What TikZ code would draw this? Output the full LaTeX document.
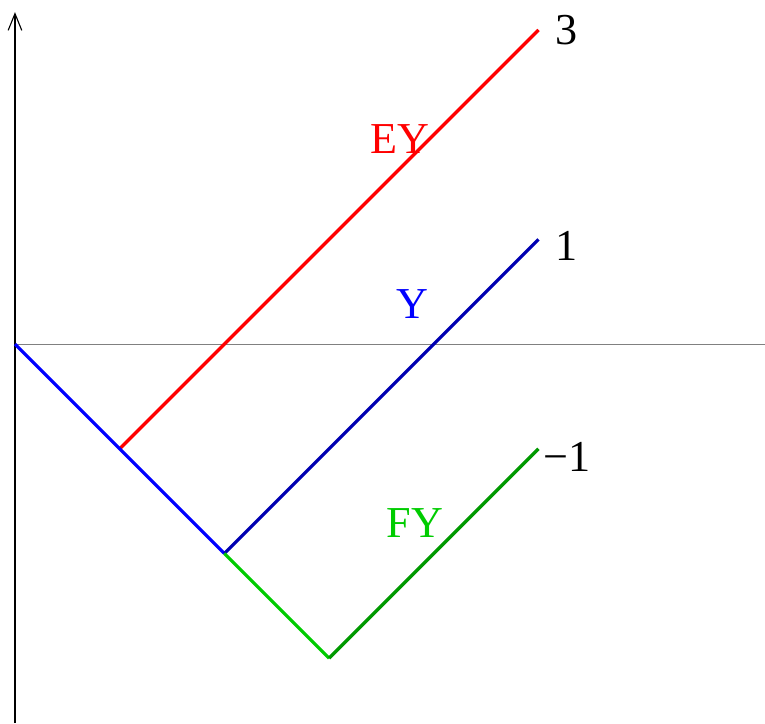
\documentclass[tikz,border=0pt]{standalone}
\usepackage{fontspec}
\setmainfont{Liberation Serif}
\usetikzlibrary{arrows.meta}
\definecolor{darkblue}{rgb}{0,0,0.7}
\definecolor{darkgreen}{rgb}{0,0.6,0}

\begin{document}
\begin{tikzpicture}[
  axis/.style={line width=0.3pt},
  seg/.style={line width=0.9pt},
  lbl/.style={font=\fontsize{12}{14}\selectfont, inner sep=0pt}
]
\useasboundingbox (-0.143,-3.62) rectangle (7.163,3.286);
\coordinate (o) at (0,0);
\coordinate (a) at (1,-1);
\coordinate (b) at (2,-2);
\coordinate (c) at (3,-3);
\coordinate (ey) at (5,3);
\coordinate (y) at (5,1);
\coordinate (fy) at (5,-1);
\coordinate (xend) at (7.163,0);
\coordinate (ybot) at (0,-3.62);
\coordinate (ytop) at (0,3.17);
% axes
\draw[axis, gray] (o) -- (xend);
\draw[axis, -{Straight Barb[length=1.6mm, width=1.3mm]}] (ybot) -- (ytop);
% paths
\draw[seg, red] (a) -- (ey);
\draw[seg, blue] (o) -- (b);
\draw[seg, darkblue] (b) -- (y);
\draw[seg, green!80!black] (b) -- (c);
\draw[seg, darkgreen] (c) -- (fy);
% labels
\node[lbl, red] (eylbl) at (3.68,1.96) {EY};
\node[lbl, blue] (ylbl) at (3.80,0.38) {Y};
\node[lbl, green!80!black] (fylbl) at (3.82,-1.71) {FY};
\node[lbl] (n3) at (5.27,3.0) {3};
\node[lbl] (n1) at (5.27,0.94) {1};
\node[lbl] (nm1) at (5.27,-1.08) {−1};
\end{tikzpicture}
\end{document}
